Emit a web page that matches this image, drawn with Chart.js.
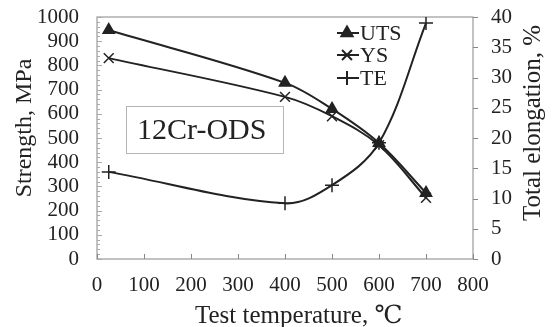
<!DOCTYPE html>
<html><head><meta charset="utf-8">
<script src="https://cdn.jsdelivr.net/npm/chart.js@4/dist/chart.umd.min.js"></script>
<style>html,body{margin:0;padding:0;background:#fff}#wrap{width:554px;height:327px}</style>
</head><body><div id="wrap"><canvas id="c" width="554" height="327"></canvas></div>
<script>
const temps = [25, 400, 500, 600, 700];
const uts = [946, 728, 620, 479, 273];
const ys = [830, 670, 590, 470, 253];
const te = [14.4, 9.2, 12.2, 19.2, 39];
const seriesNames = ['UTS', 'YS', 'TE'];
const xTicks = [0,100,200,300,400,500,600,700,800];
const boxLabel = '12Cr-ODS';
const leftTitle = 'Strength, MPa';
const rightTitle = 'Total elongation, %';
const bottomTitle = 'Test temperature, ℃';

const INK = '#222';
const FONT = '"Liberation Serif", "DejaVu Serif", "Noto Sans CJK SC", serif';

const pts = (xs, ys) => xs.map((x,i)=>({x, y: ys[i]}));

function vText(ctx, text, x, y, size) {
  ctx.save();
  ctx.fillStyle = INK;
  ctx.font = size + 'px ' + FONT;
  ctx.textAlign = 'center'; ctx.textBaseline = 'middle';
  ctx.translate(x, y);
  ctx.rotate(-Math.PI / 2);
  ctx.fillText(text, 0, 0);
  ctx.restore();
}

const decor = {
  id: 'decor',
  beforeDatasetsDraw(chart) {
    const {ctx, chartArea: a, scales} = chart;
    ctx.save();
    ctx.strokeStyle = '#9a9a9a';
    ctx.lineWidth = 1.2;
    ctx.strokeRect(a.left, a.top, a.right - a.left, a.bottom - a.top);
    ctx.strokeStyle = '#aaa';
    ctx.lineWidth = 1;
    for (let v = 0; v <= 1000; v += 20) {
      const y = Math.round(scales.y.getPixelForValue(v)) + 0.5;
      ctx.beginPath(); ctx.moveTo(a.left, y); ctx.lineTo(a.left + (v % 100 === 0 ? 5 : 3), y); ctx.stroke();
    }
    ctx.strokeStyle = '#888';
    for (const v of xTicks) {
      const x = Math.round(scales.x.getPixelForValue(v)) + 0.5;
      ctx.beginPath(); ctx.moveTo(x, a.bottom); ctx.lineTo(x, a.bottom - 5); ctx.stroke();
    }
    for (let v = 0; v <= 40; v += 5) {
      const y = Math.round(scales.y2.getPixelForValue(v)) + 0.5;
      ctx.beginPath(); ctx.moveTo(a.right, y); ctx.lineTo(a.right + 5, y); ctx.stroke();
    }
    vText(ctx, leftTitle, 25, 128, 24);
    vText(ctx, rightTitle, 533, 123, 25);
    ctx.fillStyle = INK;
    ctx.font = '25px ' + FONT;
    ctx.textAlign = 'left'; ctx.textBaseline = 'alphabetic';
    ctx.fillText(bottomTitle, 195, 323);
    ctx.fillStyle = '#fff';
    ctx.strokeStyle = '#b5b5b5';
    ctx.fillRect(126, 106, 157, 47);
    ctx.strokeRect(126.5, 106.5, 157, 47);
    ctx.fillStyle = INK;
    ctx.font = '30px ' + FONT;
    ctx.textAlign = 'left';
    ctx.textBaseline = 'alphabetic';
    ctx.fillText(boxLabel, 137, 139);
    ctx.restore();
  },
  afterDatasetsDraw(chart) {
    const {ctx} = chart;
    ctx.save();
    const rowY = [33, 55, 78];
    chart.data.datasets.forEach((ds, i) => {
      const y = rowY[i];
      ctx.strokeStyle = INK; ctx.lineWidth = 2;
      ctx.beginPath(); ctx.moveTo(337, y); ctx.lineTo(359, y); ctx.stroke();
      ctx.fillStyle = INK;
      Chart.helpers.drawPoint(ctx, {pointStyle: ds.pointStyle, radius: ds.pointRadius, borderWidth: 1.5, rotation: 0}, 347, y);
      ctx.font = '22px ' + FONT;
      ctx.textAlign = 'left'; ctx.textBaseline = 'middle';
      ctx.fillText(seriesNames[i], 360, y + 1);
    });
    ctx.restore();
  }
};

const common = {borderColor: INK, backgroundColor: INK, pointBorderColor: INK, pointBackgroundColor: INK, borderWidth: 2, tension: 0.35, fill: false, pointBorderWidth: 1.5};

new Chart(document.getElementById('c'), {
  type: 'line',
  data: {
    datasets: [
      {...common, label: seriesNames[0], data: pts(temps, uts), yAxisID: 'y', pointStyle: 'triangle', pointRadius: 6.5},
      {...common, label: seriesNames[1], data: pts(temps, ys), yAxisID: 'y', pointStyle: 'crossRot', pointRadius: 7},
      {...common, label: seriesNames[2], data: pts(temps, te), yAxisID: 'y2', pointStyle: 'cross', pointRadius: 7},
    ]
  },
  options: {
    responsive: false, animation: false,
    layout: {padding: {top: 17, left: 0, right: 0, bottom: 0}, autoPadding: false},
    plugins: {legend: {display: false}, tooltip: {enabled: false}},
    scales: {
      x: {type: 'linear', min: 0, max: 800,
        afterBuildTicks: s => { s.ticks = xTicks.map(v => ({value: v})); },
        afterFit: s => { s.height = 68; s.paddingLeft = 0; s.paddingRight = 0; },
        grid: {display: false, drawTicks: false}, border: {display: false},
        ticks: {color: INK, font: {family: FONT, size: 21}, padding: 14, maxRotation: 0, autoSkip: false, callback: v => String(v)},
        title: {display: false}
      },
      y: {position: 'left', min: 0, max: 1000,
        ticks: {stepSize: 100, color: INK, font: {family: FONT, size: 21}, padding: 18, autoSkip: false, callback: v => String(v)},
        afterFit: s => { s.width = 97; s.paddingTop = 0; s.paddingBottom = 0; },
        grid: {display: false, drawTicks: false}, border: {display: false},
        title: {display: false}
      },
      y2: {position: 'right', min: 0, max: 40,
        ticks: {stepSize: 5, color: INK, font: {family: FONT, size: 21}, padding: 18, autoSkip: false, callback: v => String(v)},
        afterFit: s => { s.width = 81; s.paddingTop = 0; s.paddingBottom = 0; },
        grid: {display: false, drawTicks: false}, border: {display: false},
        title: {display: false}
      }
    }
  },
  plugins: [decor]
});
</script></body></html>
